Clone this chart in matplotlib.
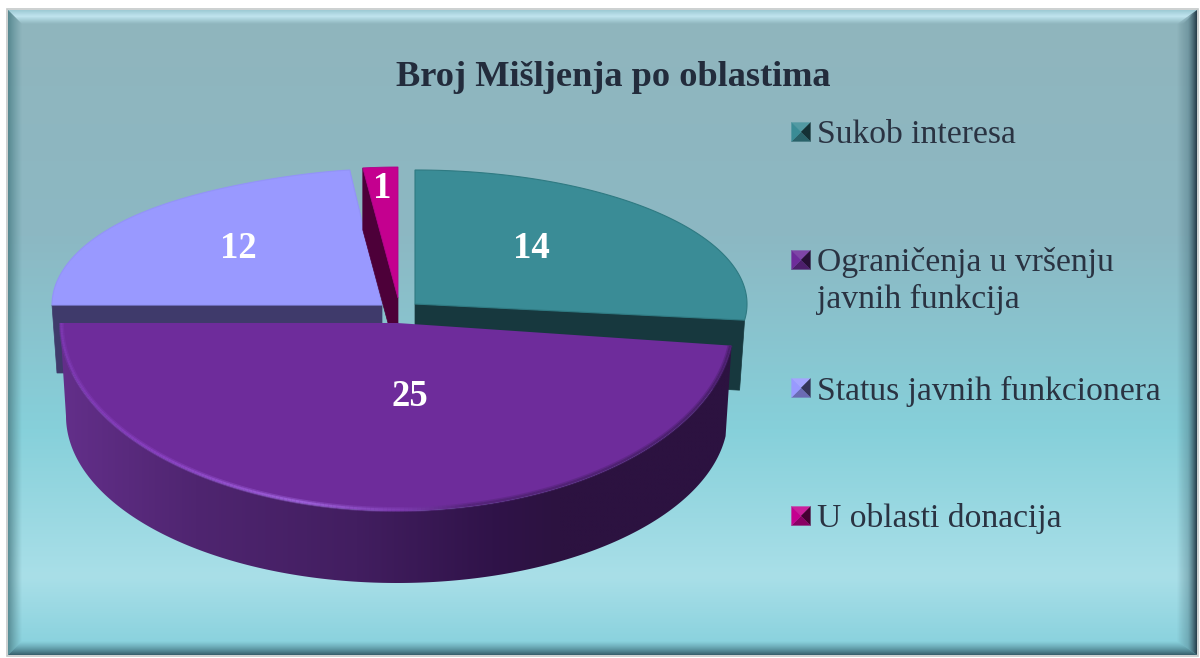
import numpy as np
import matplotlib
matplotlib.use("Agg")
import matplotlib.pyplot as plt
from matplotlib.colors import LinearSegmentedColormap, to_rgb
from matplotlib.patches import Polygon, Rectangle
from matplotlib.collections import LineCollection

categories = ["Sukob interesa", "Ograničenja u vršenju\njavnih funkcija",
              "Status javnih funkcionera", "U oblasti donacija"]
values = [14, 25, 12, 1]
title = "Broj Mišljenja po oblastima"
top_colors = ["#3a8c96", "#6e2c9b", "#9999ff", "#c4008f"]
wall_colors = ["#17383e", "#2a0f42", "#3f3a6b", "#4d0039"]

W, H = 1200, 658
FONT = "Liberation Serif"
fig = plt.figure(figsize=(W / 100, H / 100), dpi=100, facecolor="white")
ax = fig.add_axes([0, 0, 1, 1])
ax.set_xlim(0, W)
ax.set_ylim(H, 0)
ax.axis("off")


def grad(extent, colors, vertical=True, clip=None, z=1):
    cmap = LinearSegmentedColormap.from_list("g", colors)
    g = np.linspace(0, 1, 256)
    g = g[:, None] if vertical else g[None, :]
    im = ax.imshow(g, cmap=cmap, extent=extent, aspect="auto", zorder=z,
                   vmin=0, vmax=1, interpolation="bilinear")
    if clip is not None:
        p = Polygon(clip, closed=True, transform=ax.transData, fc="none", ec="none")
        ax.add_patch(p)
        im.set_clip_path(p)
    return im


# background + frame
L, T, R, B = 8, 10, 1197, 655
grad((L, R, B, T), [(0.0, "#90b5bd"), (0.35, "#8cb8c3"), (0.65, "#86d0da"),
                    (0.88, "#a9dfe8"), (1.0, "#85d0dc")], z=1)
ax.add_patch(Rectangle((L - 1, T - 1), R - L + 2, B - T + 2, fc="none", ec="#c4c8c8", lw=1.2, zorder=6))
b = 14
rgba0 = (0.75, 0.92, 0.96, 0.0)
grad((L, R, T + b, T), [(0.0, (0.62, 0.80, 0.84, 0.9)), (0.45, (0.78, 0.92, 0.96, 0.9)), (1.0, rgba0)],
     clip=[(L, T), (R, T), (R - b, T + b), (L + b, T + b)], z=2)
grad((L, L + b, B, T), [(0.0, (0.30, 0.50, 0.53, 0.85)), (1.0, (0.35, 0.55, 0.58, 0.0))], vertical=False,
     clip=[(L, T), (L + b, T + b), (L + b, B - b), (L, B)], z=2)
grad((R - 20, R, B, T), [(0.0, (0.2, 0.3, 0.35, 0.0)), (0.55, (0.25, 0.4, 0.45, 0.35)), (1.0, (0.12, 0.2, 0.25, 0.95))],
     vertical=False, clip=[(R, T), (R - 20, T + b), (R - 20, B - b), (R, B)], z=2)
grad((L, R, B, B - b), [(0.0, (0.3, 0.5, 0.55, 0.0)), (1.0, (0.15, 0.28, 0.33, 0.85))],
     clip=[(L, B), (L + b, B - b), (R - 20, B - b), (R, B)], z=2)

# slice angles, clockwise from 12 o'clock
total = sum(values)
ends = np.cumsum(values) / total * 2 * np.pi
starts = np.r_[0, ends[:-1]]


def arc(cx, cy, rx, ry, a0, a1, n=160, squeeze=0.0):
    a = np.linspace(a0, a1, n)
    k = 1 - squeeze * np.clip(np.cos(a), 0, 1) ** 8
    return np.c_[cx + rx * k * np.sin(a), cy - ry * np.cos(a)]


# exploded slice geometry: top ellipse cx, cy, rx, ry and wall depth
teal = (415, 304, 332, 134)
purple = (397, 323, 337, 188)
lav = (382, 305, 330, 136)
pink = (398, 298, 292, 131)
teal_d, lav_d, pink_d = 70, 68, 62

# teal radial wall
p = arc(*teal, ends[0], ends[0], 1)[0]
ax.add_patch(Polygon([(teal[0], teal[1]), p, (p[0] - 5, p[1] + teal_d), (teal[0], teal[1] + teal_d)],
                     closed=True, fc=wall_colors[0], ec=wall_colors[0], lw=0.5, zorder=3))
# lavender radial wall
p = arc(*lav, starts[2], starts[2], 1)[0]
ax.add_patch(Polygon([(lav[0], lav[1]), p, (p[0] + 5, p[1] + lav_d), (lav[0], lav[1] + lav_d)],
                     closed=True, fc=wall_colors[2], ec=wall_colors[2], lw=0.5, zorder=3))
# tops of the back slices
for i, geo, edge, sq in ((0, teal, "#2f7a82", 0), (2, lav, "#9393f8", 0.2)):
    pts = np.vstack([geo[:2], arc(*geo, starts[i], ends[i], squeeze=sq)])
    ax.add_patch(Polygon(pts, closed=True, fc=top_colors[i], ec=edge, lw=0.8, zorder=3.5))
# pink wall + top
p = arc(*pink, starts[3], starts[3], 1)[0]
ax.add_patch(Polygon([(pink[0], pink[1]), p, (p[0], p[1] + pink_d), (pink[0], pink[1] + pink_d)],
                     closed=True, fc=wall_colors[3], ec=wall_colors[3], lw=0.5, zorder=3.7))
pts = np.vstack([pink[:2], arc(*pink, starts[3], ends[3])])
ax.add_patch(Polygon(pts, closed=True, fc=top_colors[3], ec="#b0008a", lw=0.6, zorder=3.8))

# front slice side wall with gradient
cx, cy, rx, ry = purple
a0, a1 = starts[1], ends[1]
top_arc = arc(cx, cy, rx, ry, a0, a1, 240)
bot_arc = arc(cx, 416, rx - 6, 167, a0, a1, 240)
side = np.vstack([top_arc, bot_arc[::-1]])
grad((60, 735, 600, 300), [(0.0, "#632f8a"), (0.2, "#4f2570"), (0.44, "#421e60"), (0.64, "#301349"),
                           (0.74, "#2c1240"), (1.0, "#2c1240")], vertical=False, clip=side, z=4)

# front slice top
pts = np.vstack([[cx, cy], top_arc])
ax.add_patch(Polygon(pts, closed=True, fc=top_colors[1], ec="none", zorder=4.5))

# bevel rim on the front slice, brightest at lower left and soft on the right
rim = arc(cx, cy, rx - 1.5, ry - 1.5, a0, a1, 240)
segs = np.stack([rim[:-1], rim[1:]], axis=1)
xm = segs[:, :, 0].mean(axis=1)
stops_x = [60, 160, 300, 400, 470, 735]
stops_c = np.array([to_rgb(c) for c in ("#7c38b0", "#8840c0", "#9c60d8", "#7d3bb0", "#55247a", "#4a1f6c")])
cols = np.c_[[np.interp(xm, stops_x, stops_c[:, j]) for j in range(3)]].T
ax.add_collection(LineCollection(segs, colors=np.c_[cols, np.full(len(cols), 0.45)], linewidths=3.6, zorder=4.6))
ax.add_collection(LineCollection(segs, colors=cols, linewidths=1.5, zorder=4.7))

# labels
label_pos = [(531, 249), (410, 397), (238, 248), (382, 189)]
for v, (x, y) in zip(values, label_pos):
    ax.text(x, y, str(v), color="white", fontsize=26.5, fontweight="bold", family=FONT,
            ha="center", va="center", zorder=7)

ax.text(613, 78, title, color="#232c3c", fontsize=26.2, fontweight="bold", family=FONT,
        ha="center", va="center", zorder=7)

# legend
leg_y = [132, 260, 388, 516]
sw = 9.5
for name, y, col in zip(categories, leg_y, top_colors):
    x = 801
    base = np.array(to_rgb(col))
    light = base + (1 - base) * 0.12
    c = (x, y)
    tl, tr, br, bl = (x - sw, y - sw), (x + sw, y - sw), (x + sw, y + sw), (x - sw, y + sw)
    for tri, fc in (((tl, tr, c), light), ((tr, br, c), base * 0.35), ((br, bl, c), base * 0.7), ((bl, tl, c), base)):
        ax.add_patch(Polygon(tri, closed=True, fc=fc, ec=fc, lw=0.2, zorder=6))
    lines = name.split("\n")
    ax.text(817, y + 3, lines[0], color="#2a3342", fontsize=24.2, family=FONT,
            ha="left", va="center", zorder=7)
    if len(lines) > 1:
        ax.text(817, y + 39, lines[1], color="#2a3342", fontsize=24.2, family=FONT,
                ha="left", va="center", zorder=7)

ax.set_xlim(0, W)
ax.set_ylim(H, 0)
fig.savefig("out.png", dpi=100, facecolor="white")
